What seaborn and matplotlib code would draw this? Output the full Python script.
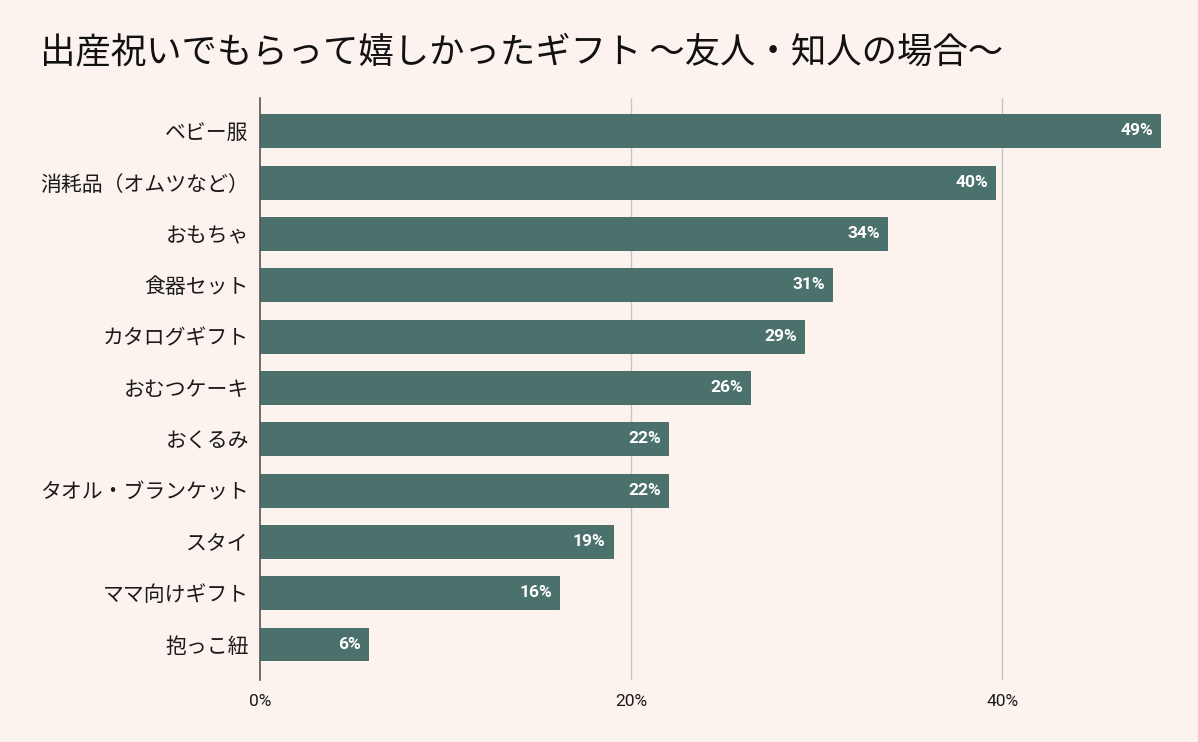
import matplotlib
matplotlib.use("Agg")
import matplotlib.pyplot as plt
import seaborn as sns
import pandas as pd

title = "出産祝いでもらって嬉しかったギフト ～友人・知人の場合～"
categories = ["ベビー服", "消耗品（オムツなど）", "おもちゃ", "食器セット", "カタログギフト",
              "おむつケーキ", "おくるみ", "タオル・ブランケット", "スタイ", "ママ向けギフト", "抱っこ紐"]
values = [48.5, 39.6, 33.8, 30.8, 29.3, 26.4, 22.0, 22.0, 19.0, 16.1, 5.8]
value_labels = ["49%", "40%", "34%", "31%", "29%", "26%", "22%", "22%", "19%", "16%", "6%"]
x_ticks = [0, 20, 40]
x_tick_labels = ["0%", "20%", "40%"]

BG = "#FCF3EE"
BAR = "#4B716C"

sns.set_theme(style="white")
plt.rcParams["font.family"] = ["Roboto", "Noto Sans CJK JP", "DejaVu Sans"]

df = pd.DataFrame({"category": categories, "value": values})

fig = plt.figure(figsize=(11.98, 7.42), dpi=100, facecolor=BG)
ax = fig.add_axes([260 / 1198, 1 - 680 / 742, (1175 - 260) / 1198, (680 - 98) / 742])
ax.set_facecolor(BG)

sns.barplot(data=df, x="value", y="category", color=BAR, width=0.64, ax=ax,
            saturation=1, edgecolor="#3F625D", linewidth=0.6, zorder=3)

ax.set_xlim(0, 49.3)
ax.set_ylim(len(categories) - 0.3, -0.64)
ax.set_xticks(x_ticks)
ax.set_xticklabels(x_tick_labels, fontsize=12.5, color="#1a1a1a")
ax.tick_params(axis="y", labelsize=15, colors="#1a1a1a", length=0, pad=8)
ax.tick_params(axis="x", length=0, pad=10)
ax.set_xlabel("")
ax.set_ylabel("")
for lab in ax.get_yticklabels():
    lab.set_fontfamily(["Noto Sans CJK JP", "DejaVu Sans"])

for s in ["top", "right", "bottom"]:
    ax.spines[s].set_visible(False)
ax.spines["left"].set_color("#555555")
ax.spines["left"].set_linewidth(1.2)
ax.spines["left"].set_zorder(4)
for xv in x_ticks[1:]:
    ax.axvline(xv, color="#C8C4C2", linewidth=1, zorder=1)

for patch, lab in zip(ax.patches, value_labels):
    w = patch.get_width()
    yc = patch.get_y() + patch.get_height() / 2
    ax.annotate(lab, xy=(w, yc), xytext=(-5, 0), textcoords="offset points",
                ha="right", va="center", color="white", fontsize=12.5, fontweight="bold",
                zorder=5)

fig.text(40 / 1198, 1 - 52 / 742, title, fontsize=25.5, color="#111111",
         ha="left", va="center", family=["Noto Sans CJK JP", "DejaVu Sans"])

fig.savefig("out.png", dpi=100, facecolor=BG)
